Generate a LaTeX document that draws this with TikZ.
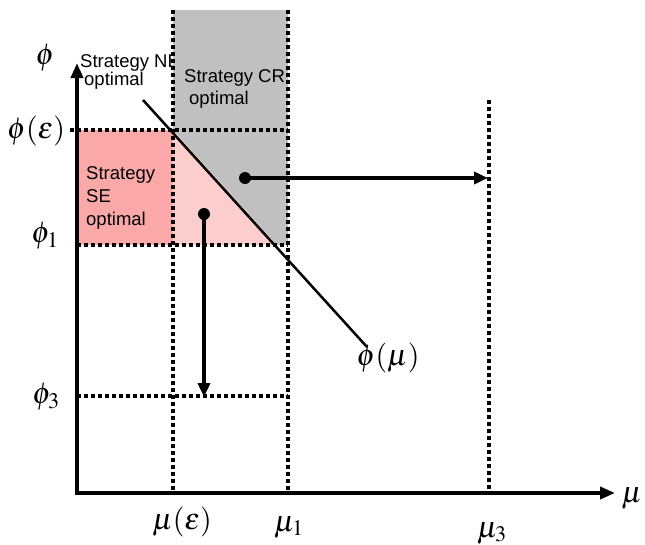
\documentclass[tikz,border=0pt]{standalone}
\usepackage{mathptmx}
\usepackage[no-math]{fontspec}
\setmainfont{Liberation Sans}
\usetikzlibrary{arrows.meta}
\definecolor{regiongrey}{RGB}{192,192,192}
\definecolor{sepink}{RGB}{250,168,168}
\definecolor{sepinklight}{RGB}{252,205,205}
\begin{document}
\begin{tikzpicture}[x=1pt,y=-1pt,
  bound/.style={line width=3.5pt,dash pattern=on 4pt off 3pt},
  axis/.style={line width=4pt,-{Triangle[length=15pt,width=12pt]}},
  move/.style={line width=3.5pt,-{Triangle[length=14pt,width=12pt]}},
  dot/.style={circle,fill=black,inner sep=0pt,minimum size=12pt},
  txt/.style={font=\fontsize{18.5}{22}\selectfont,inner sep=0pt,anchor=base west},
  mlab/.style={font=\fontsize{30}{32}\selectfont,inner sep=0pt}]
\useasboundingbox (0,0) rectangle (645,544);

% label of the region left of the curve (partly covered by the CR region)
\node[txt] (ne1) at (80,67) {Strategy NE};
\node[txt] (ne2) at (84,85) {optimal};

% SE region and the part below the curve
\fill[sepink] (79,130) rectangle (173,245);
\fill[sepinklight] (173,130) -- (277,245) -- (173,245) -- cycle;
% CR region
\fill[regiongrey] (173,10) -- (288,10) -- (288,245) -- (277,245) -- (173,130) -- cycle;

% region texts
\node[txt] (cr1) at (184,82) {Strategy CR};
\node[txt] (cr2) at (189,104) {optimal};
\node[txt] (se1) at (86,179) {Strategy};
\node[txt] (se2) at (86,202) {SE};
\node[txt] (se3) at (86,225) {optimal};

% threshold lines
\coordinate (me0) at (173,10);  \coordinate (me1) at (173,493);
\coordinate (m10) at (288,10);  \coordinate (m11) at (288,493);
\coordinate (m30) at (489,100); \coordinate (m31) at (489,493);
\coordinate (pe0) at (70,130);  \coordinate (pe1) at (288,130);
\coordinate (p10) at (77,245);  \coordinate (p11) at (288,245);
\coordinate (p30) at (77,396);  \coordinate (p31) at (288,396);
\draw[bound] (me0) -- (me1);
\draw[bound] (m10) -- (m11);
\draw[bound] (m30) -- (m31);
\draw[bound] (pe0) -- (pe1);
\draw[bound] (p10) -- (p11);
\draw[bound] (p30) -- (p31);

% axes
\coordinate (origin) at (77,495);
\coordinate (ytip) at (77,63);
\coordinate (xstart) at (75,493);
\coordinate (xtip) at (615,493);
\draw[axis] (origin) -- (ytip);
\draw[axis] (xstart) -- (xtip);

% the curve phi(mu)
\coordinate (c0) at (143,100);
\coordinate (c1) at (367,347);
\draw[line width=2.5pt] (c0) -- (c1);

% moves
\node[dot] (d1) at (245,178) {};
\node[dot] (d2) at (204,214) {};
\coordinate (t1) at (488,178);
\coordinate (t2) at (204,397);
\draw[move] (d1.center) -- (t1);
\draw[move] (d2.center) -- (t2);

% axis labels
\node[mlab] (lphi) at (45,58) {$\phi$};
\node[mlab] (lphie) at (36,131) {$\phi(\varepsilon)$};
\node[mlab] (lphi1) at (45,236) {$\phi_1$};
\node[mlab] (lphi3) at (46,397) {$\phi_3$};
\node[mlab] (lmue) at (182,522) {$\mu(\varepsilon)$};
\node[mlab] (lmu1) at (289,527) {$\mu_1$};
\node[mlab] (lmu3) at (492,533) {$\mu_3$};
\node[mlab] (lmu) at (632,498) {$\mu$};
\node[mlab] (lphimu) at (388,358) {$\phi(\mu)$};
\end{tikzpicture}
\end{document}
